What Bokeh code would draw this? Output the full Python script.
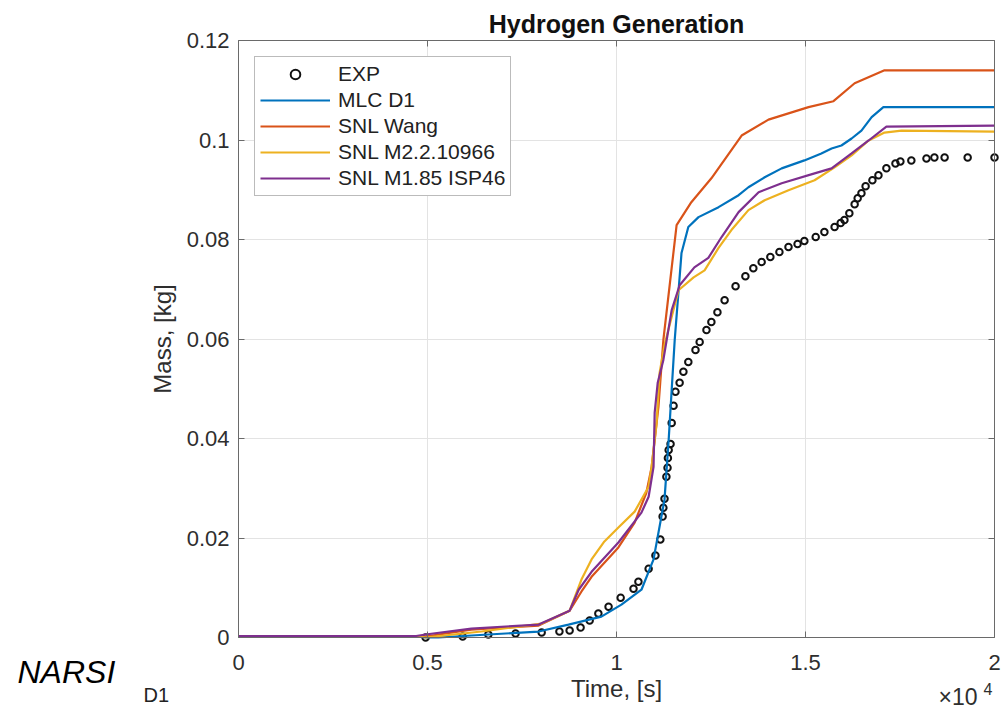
from bokeh.plotting import figure
from bokeh.models import Range1d, FixedTicker, LinearAxis, Label, Legend, LegendItem, Grid
from bokeh.embed import file_html
from bokeh.resources import INLINE

# ---------------- data ----------------
exp_t = [4950, 5930, 6610, 7330, 8020, 8490, 8760, 9050, 9290, 9520, 9790, 10110, 10450, 10580,
         10850, 11030, 11160, 11220, 11240, 11270, 11320, 11350, 11360, 11380, 11430, 11460, 11510,
         11560, 11670, 11770, 11900, 12090, 12200, 12380, 12510, 12670, 12860, 13150, 13410, 13620,
         13840, 14070, 14310, 14550, 14790, 14970, 15270, 15500, 15770, 15930, 16030, 16160, 16300,
         16380, 16480, 16590, 16770, 16930, 17140, 17380, 17510, 17800, 18200, 18410, 18680, 19290, 20000]
exp_m = [0.0, 0.0002, 0.0006, 0.0008, 0.0010, 0.0012, 0.0014, 0.0020, 0.0034, 0.0048, 0.0062, 0.0080,
         0.0098, 0.0112, 0.0138, 0.0165, 0.0197, 0.0243, 0.0261, 0.0279, 0.0323, 0.0341, 0.0361, 0.0377,
         0.0389, 0.0431, 0.0466, 0.0494, 0.0512, 0.0534, 0.0554, 0.0578, 0.0594, 0.0618, 0.0634, 0.0654,
         0.0678, 0.0706, 0.0726, 0.0742, 0.0755, 0.0765, 0.0775, 0.0785, 0.0791, 0.0797, 0.0805, 0.0815,
         0.0825, 0.0833, 0.0839, 0.0853, 0.0871, 0.0883, 0.0893, 0.0907, 0.0919, 0.0929, 0.0943, 0.0953,
         0.0957, 0.0959, 0.0963, 0.0965, 0.0965, 0.0965, 0.0965]

mlc_t = [0, 4700, 4950, 5290, 6610, 7940, 8730, 9600, 10130, 10660, 10980, 11270, 11380, 11460, 11540,
         11720, 11900, 12170, 12700, 13230, 13490, 13920, 14370, 14970, 15420, 15690, 15950, 16220,
         16480, 16750, 17060, 20000]
mlc_m = [0.0002, 0.0002, 0.0, 0.0, 0.0006, 0.0012, 0.0026, 0.0042, 0.0066, 0.0096, 0.0157, 0.0277,
         0.0397, 0.0498, 0.0598, 0.0773, 0.0825, 0.0845, 0.0865, 0.0889, 0.0905, 0.0925, 0.0943, 0.0959,
         0.0973, 0.0983, 0.0989, 0.1003, 0.1019, 0.1046, 0.1066, 0.1066]

wang_t = [0, 4700, 4950, 6160, 7940, 8760, 9070, 9340, 10050, 10480, 10790, 10930, 11110, 11240, 11590,
          11980, 12510, 13310, 14020, 15080, 15740, 16300, 17090, 20000]
wang_m = [0.0003, 0.0003, 0.0002, 0.0016, 0.0024, 0.0054, 0.0092, 0.0122, 0.0181, 0.0231, 0.0291,
          0.0343, 0.0464, 0.0598, 0.0829, 0.0875, 0.0923, 0.1009, 0.1041, 0.1066, 0.1078, 0.1114,
          0.1140, 0.1140]

m22_t = [0, 4700, 4950, 6430, 8020, 8760, 9070, 9340, 9680, 10050, 10480, 10850, 10930, 11060, 11140,
         11270, 11640, 12040, 12330, 12700, 13040, 13490, 13920, 14550, 15240, 15770, 16220, 16670,
         17090, 17540, 20000]
m22_m = [0.0003, 0.0003, 0.0, 0.0012, 0.0028, 0.0054, 0.0116, 0.0157, 0.0193, 0.0221, 0.0253, 0.0303,
         0.0343, 0.0431, 0.0532, 0.0588, 0.0698, 0.0724, 0.0738, 0.0783, 0.0819, 0.0859, 0.0879, 0.0899,
         0.0919, 0.0945, 0.0969, 0.0999, 0.1015, 0.1019, 0.1017]

m185_t = [0, 4700, 4950, 6160, 7940, 8760, 9000, 9340, 10050, 10660, 10850, 10980, 11010, 11090, 11240,
          11460, 11670, 12060, 12430, 12780, 13230, 13760, 14370, 15240, 15690, 16220, 16670, 17140, 20000]
m185_m = [0.0003, 0.0003, 0.0006, 0.0018, 0.0026, 0.0054, 0.0096, 0.0132, 0.0191, 0.0251, 0.0283,
          0.0343, 0.0452, 0.0512, 0.0558, 0.0658, 0.0708, 0.0744, 0.0763, 0.0805, 0.0855, 0.0895,
          0.0913, 0.0933, 0.0943, 0.0973, 0.0999, 0.1027, 0.1029]

series_names = ["EXP", "MLC D1", "SNL Wang", "SNL M2.2.10966", "SNL M1.85 ISP46"]
x_ticks = [0, 5000, 10000, 15000, 20000]
x_tick_labels = ["0", "0.5", "1", "1.5", "2"]
y_ticks = [0.0, 0.02, 0.04, 0.06, 0.08, 0.1, 0.12]
y_tick_labels = ["0", "0.02", "0.04", "0.06", "0.08", "0.1", "0.12"]
x_lim = (0, 20000)
y_lim = (0.0, 0.12)

# ---------------- layout (pixel geometry of the axes box) ----------------
W, H = 1004, 710
BOX_L, BOX_R, BOX_T, BOX_B = 238, 994, 40, 637
sx = (x_lim[1] - x_lim[0]) / (BOX_R - BOX_L)   # data per px
sy = (y_lim[1] - y_lim[0]) / (BOX_B - BOX_T)
x_rng = Range1d(x_lim[0] - BOX_L * sx, x_lim[1] + (W - BOX_R) * sx)
y_rng = Range1d(y_lim[0] - (H - BOX_B) * sy, y_lim[1] + BOX_T * sy)

def px_x(px):
    return x_lim[0] + (px - BOX_L) * sx

def px_y(py):
    return y_lim[0] + (BOX_B - py) * sy

FONT = "Liberation Sans"
AX = "#6a6a6a"
TXT = "#2e2e2e"

p = figure(width=W, height=H, x_range=x_rng, y_range=y_rng,
           output_backend="svg", toolbar_location=None,
           min_border_left=0, min_border_right=0, min_border_top=0, min_border_bottom=0,
           background_fill_color="white", border_fill_color="white")
p.outline_line_color = None

for ax in (p.xaxis[0], p.yaxis[0]):
    ax.axis_line_color = AX
    ax.major_tick_line_color = AX
    ax.major_tick_in = 6
    ax.major_tick_out = 0
    ax.minor_tick_line_color = None
    ax.major_label_text_font = FONT
    ax.major_label_text_font_size = "22px"
    ax.major_label_text_color = TXT
    ax.axis_label_text_font = FONT
    ax.axis_label_text_font_size = "24px"
    ax.axis_label_text_font_style = "normal"
    ax.axis_label_text_color = TXT

xa = p.xaxis[0]
xa.fixed_location = y_lim[0]
xa.bounds = x_lim
xa.ticker = FixedTicker(ticks=x_ticks)
xa.major_label_overrides = dict(zip(x_ticks, x_tick_labels))
xa.major_label_standoff = 17
xa.axis_label = "Time, [s]"
xa.axis_label_standoff = 2

ya = p.yaxis[0]
ya.fixed_location = x_lim[0]
ya.bounds = y_lim
ya.ticker = FixedTicker(ticks=y_ticks)
ya.major_label_overrides = dict(zip(y_ticks, y_tick_labels))
ya.major_label_standoff = 9
ya.axis_label = "Mass, [kg]"
ya.axis_label_standoff = 8

# box: right and top sides with inward ticks, no labels
for loc, tk, fx, bd in (("right", y_ticks, x_lim[1], y_lim), ("above", x_ticks, y_lim[1], x_lim)):
    a = LinearAxis(ticker=FixedTicker(ticks=tk), fixed_location=fx, bounds=bd,
                   major_tick_in=6, major_tick_out=0, minor_tick_line_color=None,
                   axis_line_color=AX, major_tick_line_color=AX, major_label_text_color=None)
    p.add_layout(a, loc)

# grid limited to the box
GRID = "#e3e3e3"
if "cross_bounds" in Grid.properties():
    p.xgrid.ticker = FixedTicker(ticks=x_ticks)
    p.ygrid.ticker = FixedTicker(ticks=y_ticks)
    p.xgrid.bounds = x_lim
    p.ygrid.bounds = y_lim
    p.xgrid.cross_bounds = y_lim
    p.ygrid.cross_bounds = x_lim
    p.grid.grid_line_color = GRID
    p.grid.grid_line_width = 1
else:
    p.grid.visible = False
    p.segment(x0=x_ticks, y0=[y_lim[0]] * len(x_ticks), x1=x_ticks, y1=[y_lim[1]] * len(x_ticks),
              line_color=GRID, line_width=1, level="underlay")
    p.segment(x0=[x_lim[0]] * len(y_ticks), y0=y_ticks, x1=[x_lim[1]] * len(y_ticks), y1=y_ticks,
              line_color=GRID, line_width=1, level="underlay")

r_exp = p.scatter(exp_t, exp_m, marker="circle", size=6.5, fill_color=None,
                  line_color="#111111", line_width=2)
r_mlc = p.line(mlc_t, mlc_m, line_color="#0072BD", line_width=2.2)
r_wang = p.line(wang_t, wang_m, line_color="#D95319", line_width=2.2)
r_m22 = p.line(m22_t, m22_m, line_color="#EDB120", line_width=2.2)
r_m185 = p.line(m185_t, m185_m, line_color="#7E2F8E", line_width=2.2)

rends = [r_exp, r_mlc, r_wang, r_m22, r_m185]
LEG_H = 138
legend = Legend(items=[LegendItem(label=n, renderers=[r]) for n, r in zip(series_names, rends)],
                location=(254, H - 58 - LEG_H), margin=0, padding=5, spacing=2,
                glyph_width=70, glyph_height=24, label_height=24, label_standoff=8,
                label_text_font=FONT, label_text_font_size="21px", label_text_color="#222222",
                border_line_color="#777777", border_line_width=1, background_fill_alpha=1.0)
p.add_layout(legend)

def add_text(px, py, text, size, style="normal", align="left", color=TXT):
    p.add_layout(Label(x=px_x(px), y=px_y(py), text=text, text_align=align, text_baseline="middle",
                       text_font=FONT, text_font_style=style, text_font_size=size, text_color=color))

add_text(616, 23, "Hydrogen Generation", "25px", style="bold", align="center", color="#111111")
add_text(17, 671, "NARSI", "32px", style="italic", color="#000000")
add_text(143, 694, "D1", "20px", color="#222222")
add_text(938, 696, "\u00d710", "23px")
add_text(983, 688, "4", "16px")

open("out.html", "w").write(file_html(p, INLINE))
